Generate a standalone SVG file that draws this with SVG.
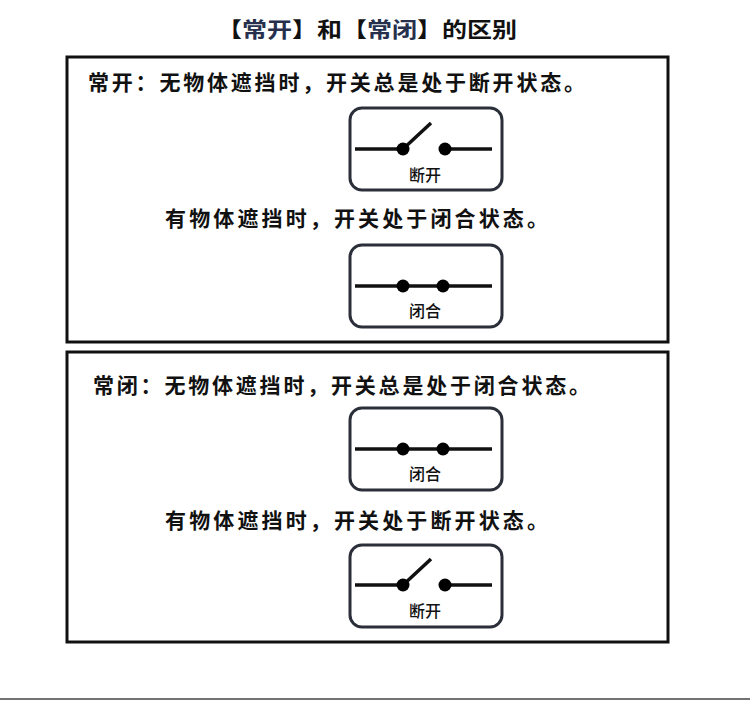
<svg xmlns="http://www.w3.org/2000/svg" width="750" height="701" viewBox="0 0 750 701">
<style>
text{font-family:"Noto Sans CJK SC",sans-serif;font-weight:bold;fill:#111}
.box{fill:none;stroke:#111;stroke-width:3}
.sw{fill:#fff;stroke:#2b2f3a;stroke-width:3}
.ln{stroke:#111;stroke-width:3.5;fill:none}
.lb{font-size:16px;font-weight:500}
.t{font-size:21px}
.navy{fill:#26304d}
</style>
<rect width="750" height="701" fill="#fff"/>
<line x1="0" y1="699" x2="750" y2="699" stroke="#444" stroke-width="1.5"/>
<text x="367" y="37" font-size="21" text-anchor="middle" textLength="300" lengthAdjust="spacingAndGlyphs">【<tspan class="navy">常开</tspan>】和【<tspan class="navy">常闭</tspan>】的区别</text>
<g id="box1">
<rect class="box" x="67" y="57" width="601" height="285"/>
<text class="t" x="88" y="90" textLength="497">常开：无物体遮挡时，开关总是处于断开状态。</text>
<text class="t" x="165" y="226" textLength="383">有物体遮挡时，开关处于闭合状态。</text>
</g>
<g id="sw1">
<rect class="sw" x="350" y="108" width="152" height="82" rx="12"/>
<path class="ln" d="M355 149H403L431 123M445 149H492"/>
<circle cx="403" cy="149" r="6.5"/><circle cx="445" cy="149" r="6.5"/>
<text class="lb" x="425" y="181" text-anchor="middle">断开</text>
</g>
<g id="sw2">
<rect class="sw" x="350" y="245" width="152" height="82" rx="12"/>
<path class="ln" d="M355 286H492"/>
<circle cx="403" cy="286" r="6.5"/><circle cx="443" cy="286" r="6.5"/>
<text class="lb" x="425" y="317" text-anchor="middle">闭合</text>
</g>
<g id="box2">
<rect class="box" x="67" y="352" width="601" height="290"/>
<text class="t" x="93" y="393" textLength="497">常闭：无物体遮挡时，开关总是处于闭合状态。</text>
<text class="t" x="165" y="528" textLength="383">有物体遮挡时，开关处于断开状态。</text>
</g>
<g id="sw3">
<rect class="sw" x="350" y="408" width="152" height="82" rx="12"/>
<path class="ln" d="M355 449H492"/>
<circle cx="403" cy="449" r="6.5"/><circle cx="443" cy="449" r="6.5"/>
<text class="lb" x="425" y="480" text-anchor="middle">闭合</text>
</g>
<g id="sw4">
<rect class="sw" x="350" y="545" width="152" height="82" rx="12"/>
<path class="ln" d="M355 585H403L431 559M445 585H492"/>
<circle cx="403" cy="585" r="6.5"/><circle cx="445" cy="585" r="6.5"/>
<text class="lb" x="425" y="617" text-anchor="middle">断开</text>
</g>
</svg>
